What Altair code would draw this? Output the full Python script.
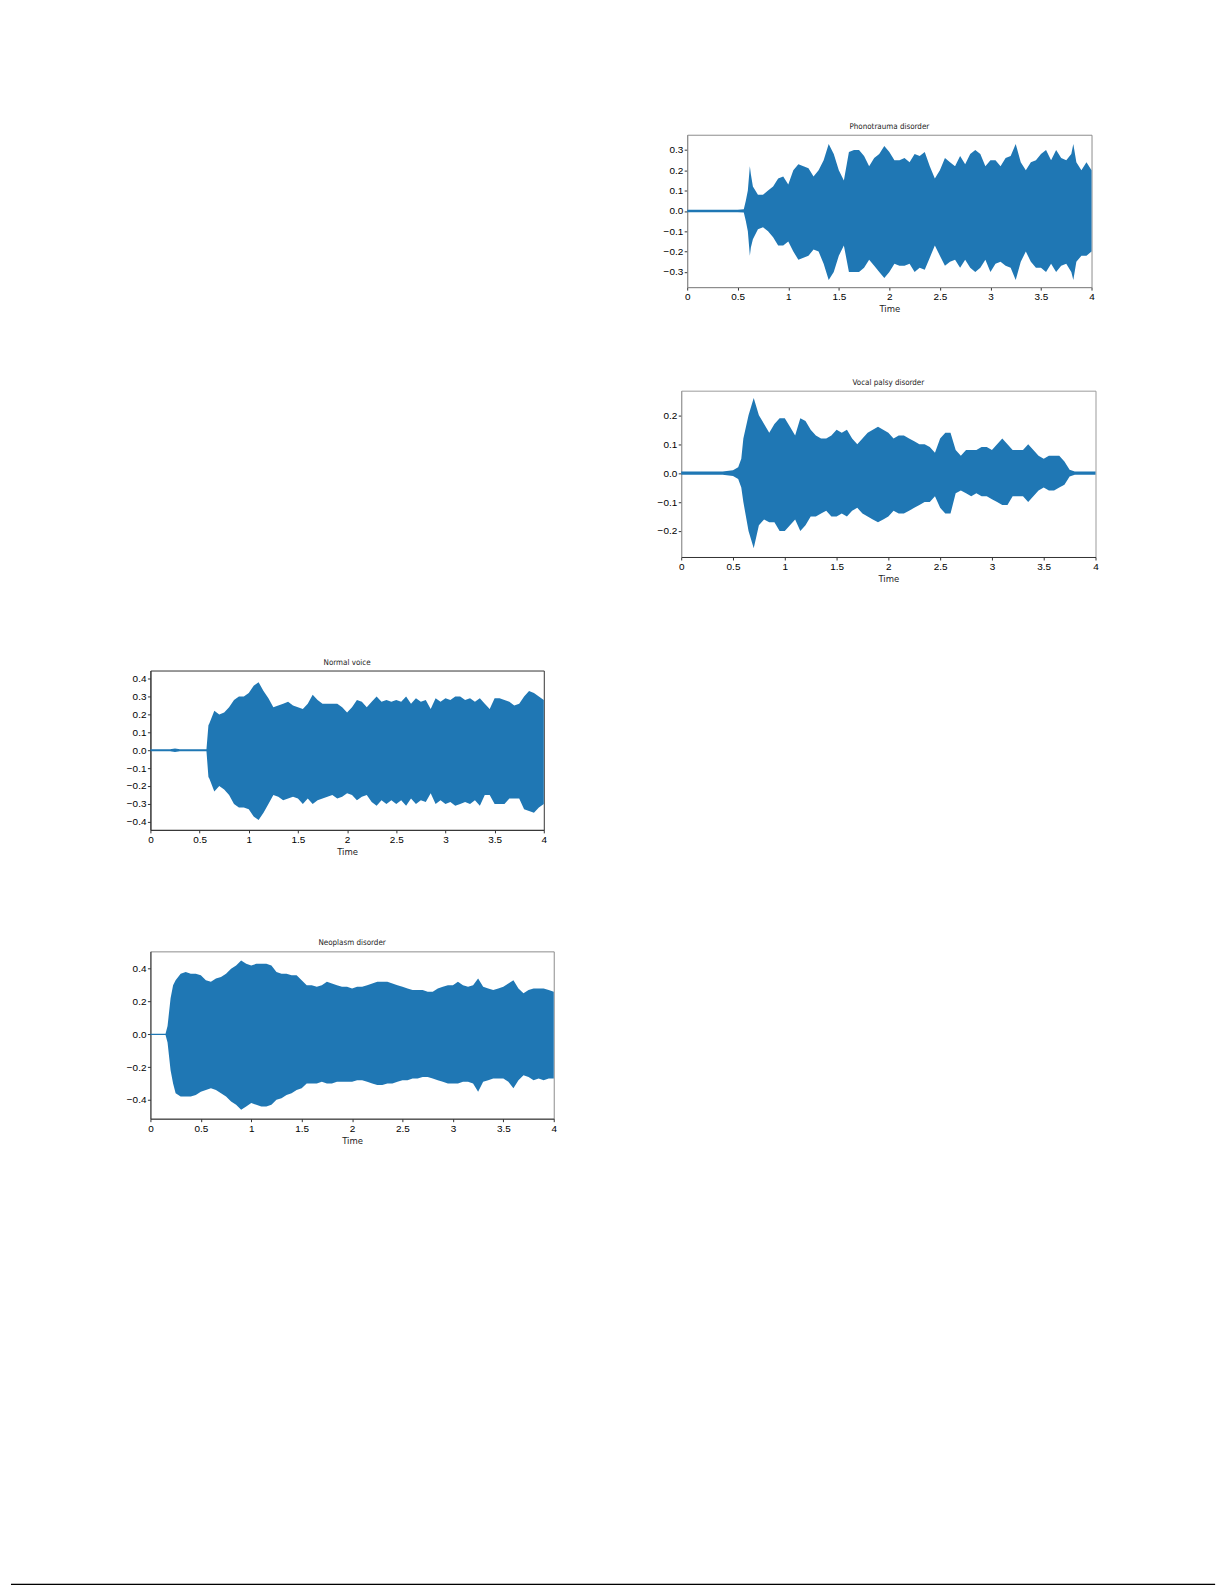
import altair as alt
import pandas as pd

# ---------------- data (envelopes) ----------------
PHONO_T = [0.0, 0.1, 0.2, 0.3, 0.4, 0.5, 0.56, 0.58, 0.6, 0.62, 0.63, 0.65,
           0.7, 0.75, 0.8, 0.85, 0.9, 0.95, 1.0, 1.05, 1.1, 1.15,
           1.2, 1.25, 1.3, 1.35, 1.4, 1.45, 1.5, 1.55, 1.6, 1.65,
           1.7, 1.75, 1.8, 1.85, 1.9, 1.95, 2.0, 2.05, 2.1, 2.15,
           2.2, 2.25, 2.3, 2.35, 2.4, 2.45, 2.5, 2.55, 2.6, 2.65,
           2.7, 2.75, 2.8, 2.85, 2.9, 2.95, 3.0, 3.05, 3.1, 3.15,
           3.2, 3.25, 3.3, 3.35, 3.4, 3.45, 3.5, 3.55, 3.6, 3.65,
           3.7, 3.75, 3.8, 3.82, 3.85, 3.9, 3.95, 4.0]
PHONO_UP = [0.006, 0.006, 0.006, 0.006, 0.006, 0.006, 0.008, 0.05, 0.1, 0.22, 0.18, 0.12,
            0.08, 0.08, 0.1, 0.12, 0.16, 0.17, 0.13, 0.2, 0.23, 0.22,
            0.21, 0.17, 0.2, 0.25, 0.33, 0.28, 0.2, 0.15, 0.29, 0.3,
            0.3, 0.27, 0.22, 0.26, 0.28, 0.32, 0.29, 0.25, 0.25, 0.26,
            0.24, 0.28, 0.27, 0.29, 0.22, 0.16, 0.2, 0.26, 0.24, 0.22,
            0.27, 0.23, 0.28, 0.3, 0.28, 0.22, 0.25, 0.25, 0.22, 0.26,
            0.27, 0.33, 0.24, 0.2, 0.24, 0.25, 0.28, 0.3, 0.25, 0.3,
            0.26, 0.25, 0.28, 0.33, 0.24, 0.2, 0.24, 0.2]
PHONO_LO = [-0.006, -0.006, -0.006, -0.006, -0.006, -0.006, -0.008, -0.05, -0.1, -0.22, -0.18, -0.14,
            -0.09, -0.08, -0.1, -0.13, -0.17, -0.17, -0.15, -0.2, -0.24, -0.23,
            -0.22, -0.19, -0.2, -0.26, -0.34, -0.3, -0.22, -0.17, -0.3, -0.3,
            -0.3, -0.28, -0.24, -0.27, -0.3, -0.33, -0.3, -0.26, -0.27, -0.27,
            -0.26, -0.3, -0.28, -0.29, -0.23, -0.17, -0.22, -0.27, -0.25, -0.24,
            -0.28, -0.24, -0.28, -0.3, -0.28, -0.24, -0.3, -0.26, -0.25, -0.27,
            -0.28, -0.34, -0.25, -0.2, -0.25, -0.28, -0.28, -0.3, -0.26, -0.3,
            -0.27, -0.26, -0.3, -0.34, -0.25, -0.22, -0.22, -0.2]

VOCAL_T = [0.0, 0.1, 0.2, 0.3, 0.4, 0.5, 0.55, 0.58, 0.6, 0.65,
           0.7, 0.75, 0.8, 0.85, 0.9, 0.95, 1.0, 1.05, 1.1, 1.15,
           1.2, 1.25, 1.3, 1.35, 1.4, 1.45, 1.5, 1.55, 1.6, 1.65,
           1.7, 1.75, 1.8, 1.85, 1.9, 1.95, 2.0, 2.05, 2.1, 2.15,
           2.2, 2.25, 2.3, 2.35, 2.4, 2.45, 2.5, 2.55, 2.6, 2.65,
           2.7, 2.75, 2.8, 2.85, 2.9, 2.95, 3.0, 3.05, 3.1, 3.15,
           3.2, 3.25, 3.3, 3.35, 3.4, 3.45, 3.5, 3.55, 3.6, 3.65,
           3.7, 3.75, 3.8, 3.9, 4.0]
VOCAL_UP = [0.006, 0.006, 0.006, 0.006, 0.006, 0.01, 0.02, 0.05, 0.12, 0.2,
            0.26, 0.2, 0.17, 0.14, 0.17, 0.19, 0.19, 0.16, 0.13, 0.19,
            0.18, 0.15, 0.13, 0.12, 0.12, 0.13, 0.15, 0.14, 0.15, 0.12,
            0.1, 0.12, 0.14, 0.15, 0.16, 0.15, 0.14, 0.12, 0.13, 0.13,
            0.12, 0.11, 0.1, 0.1, 0.09, 0.07, 0.12, 0.14, 0.14, 0.08,
            0.06, 0.08, 0.08, 0.08, 0.09, 0.09, 0.08, 0.1, 0.12, 0.1,
            0.08, 0.08, 0.08, 0.1, 0.08, 0.06, 0.05, 0.06, 0.06, 0.06,
            0.04, 0.012, 0.006, 0.006, 0.006]
VOCAL_LO = [-0.006, -0.006, -0.006, -0.006, -0.006, -0.01, -0.02, -0.05, -0.1, -0.2,
            -0.26, -0.18, -0.16, -0.17, -0.17, -0.2, -0.2, -0.18, -0.16, -0.2,
            -0.18, -0.15, -0.15, -0.14, -0.13, -0.15, -0.15, -0.14, -0.15, -0.13,
            -0.12, -0.14, -0.15, -0.16, -0.17, -0.16, -0.15, -0.13, -0.14, -0.14,
            -0.13, -0.12, -0.11, -0.1, -0.1, -0.08, -0.12, -0.14, -0.14, -0.07,
            -0.06, -0.07, -0.08, -0.07, -0.08, -0.08, -0.09, -0.1, -0.11, -0.11,
            -0.08, -0.08, -0.08, -0.1, -0.08, -0.06, -0.05, -0.06, -0.06, -0.05,
            -0.04, -0.012, -0.006, -0.006, -0.006]

NORMAL_T = [0.0, 0.1, 0.2, 0.25, 0.3, 0.4, 0.5, 0.57, 0.59, 0.6,
            0.65, 0.7, 0.75, 0.8, 0.85, 0.9, 0.95, 1.0, 1.05, 1.1,
            1.15, 1.2, 1.25, 1.3, 1.35, 1.4, 1.45, 1.5, 1.55, 1.6,
            1.65, 1.7, 1.75, 1.8, 1.85, 1.9, 1.95, 2.0, 2.05, 2.1,
            2.15, 2.2, 2.25, 2.3, 2.35, 2.4, 2.45, 2.5, 2.55, 2.6,
            2.65, 2.7, 2.75, 2.8, 2.85, 2.9, 2.95, 3.0, 3.05, 3.1,
            3.15, 3.2, 3.25, 3.3, 3.35, 3.4, 3.45, 3.5, 3.55, 3.6,
            3.65, 3.7, 3.75, 3.8, 3.85, 3.9, 3.95, 4.0]
NORMAL_UP = [0.006, 0.006, 0.006, 0.01, 0.006, 0.006, 0.006, 0.006, 0.14, 0.15,
             0.22, 0.2, 0.21, 0.24, 0.28, 0.3, 0.3, 0.32, 0.36, 0.38,
             0.33, 0.29, 0.24, 0.25, 0.26, 0.27, 0.25, 0.24, 0.23, 0.26,
             0.31, 0.28, 0.26, 0.26, 0.26, 0.26, 0.24, 0.21, 0.24, 0.28,
             0.27, 0.24, 0.27, 0.3, 0.27, 0.28, 0.27, 0.28, 0.27, 0.3,
             0.26, 0.29, 0.27, 0.28, 0.23, 0.29, 0.27, 0.29, 0.28, 0.3,
             0.3, 0.28, 0.29, 0.27, 0.29, 0.26, 0.23, 0.29, 0.29, 0.28,
             0.27, 0.25, 0.26, 0.3, 0.33, 0.32, 0.3, 0.28]
NORMAL_LO = [-0.006, -0.006, -0.006, -0.01, -0.006, -0.006, -0.006, -0.006, -0.15, -0.16,
             -0.23, -0.2, -0.22, -0.25, -0.3, -0.32, -0.32, -0.33, -0.37, -0.39,
             -0.35, -0.3, -0.25, -0.26, -0.28, -0.27, -0.26, -0.27, -0.3, -0.27,
             -0.3, -0.28, -0.27, -0.26, -0.25, -0.27, -0.26, -0.24, -0.25, -0.28,
             -0.26, -0.25, -0.29, -0.31, -0.28, -0.3, -0.28, -0.3, -0.28, -0.31,
             -0.27, -0.3, -0.28, -0.29, -0.24, -0.3, -0.28, -0.3, -0.29, -0.31,
             -0.3, -0.29, -0.3, -0.28, -0.31, -0.25, -0.25, -0.3, -0.3, -0.3,
             -0.27, -0.27, -0.27, -0.33, -0.34, -0.35, -0.32, -0.3]

NEO_T = [0.0, 0.05, 0.1, 0.15, 0.17, 0.2, 0.225, 0.25,
         0.3, 0.35, 0.4, 0.45, 0.5, 0.55, 0.6, 0.65, 0.7, 0.75,
         0.8, 0.85, 0.9, 0.95, 1.0, 1.05, 1.1, 1.15, 1.2, 1.25,
         1.3, 1.35, 1.4, 1.45, 1.5, 1.55, 1.6, 1.65, 1.7, 1.75,
         1.8, 1.85, 1.9, 1.95, 2.0, 2.05, 2.1, 2.15, 2.2, 2.25,
         2.3, 2.35, 2.4, 2.45, 2.5, 2.55, 2.6, 2.65, 2.7, 2.75,
         2.8, 2.85, 2.9, 2.95, 3.0, 3.05, 3.1, 3.15, 3.2, 3.25,
         3.3, 3.35, 3.4, 3.45, 3.5, 3.55, 3.6, 3.65, 3.7, 3.75,
         3.8, 3.85, 3.9, 3.95, 4.0]
NEO_UP = [0.004, 0.004, 0.004, 0.004, 0.05, 0.22, 0.3, 0.33,
          0.37, 0.38, 0.37, 0.37, 0.36, 0.33, 0.32, 0.34, 0.35, 0.37,
          0.4, 0.42, 0.45, 0.43, 0.42, 0.43, 0.43, 0.43, 0.42, 0.38,
          0.37, 0.37, 0.36, 0.36, 0.33, 0.3, 0.3, 0.29, 0.3, 0.32,
          0.31, 0.3, 0.29, 0.29, 0.28, 0.29, 0.29, 0.3, 0.31, 0.32,
          0.32, 0.32, 0.31, 0.3, 0.29, 0.28, 0.27, 0.27, 0.27, 0.26,
          0.26, 0.28, 0.29, 0.3, 0.3, 0.32, 0.3, 0.29, 0.3, 0.34,
          0.29, 0.28, 0.27, 0.28, 0.29, 0.31, 0.33, 0.28, 0.25, 0.27,
          0.28, 0.28, 0.28, 0.27, 0.26]
NEO_LO = [-0.004, -0.004, -0.004, -0.004, -0.05, -0.22, -0.3, -0.36,
          -0.38, -0.38, -0.38, -0.37, -0.35, -0.34, -0.33, -0.34, -0.36, -0.38,
          -0.41, -0.43, -0.46, -0.44, -0.42, -0.43, -0.44, -0.44, -0.43, -0.4,
          -0.39, -0.37, -0.36, -0.34, -0.33, -0.3, -0.3, -0.3, -0.29, -0.3,
          -0.3, -0.29, -0.29, -0.29, -0.29, -0.28, -0.28, -0.29, -0.3, -0.31,
          -0.31, -0.3, -0.3, -0.29, -0.28, -0.28, -0.27, -0.27, -0.26, -0.26,
          -0.27, -0.28, -0.29, -0.3, -0.3, -0.3, -0.29, -0.29, -0.3, -0.35,
          -0.29, -0.28, -0.27, -0.27, -0.27, -0.29, -0.33, -0.28, -0.25, -0.26,
          -0.28, -0.27, -0.28, -0.27, -0.27]

X_TICKS = [0, 0.5, 1, 1.5, 2, 2.5, 3, 3.5, 4]
PHONO_YTICKS = [-0.3, -0.2, -0.1, 0.0, 0.1, 0.2, 0.3]
VOCAL_YTICKS = [-0.2, -0.1, 0.0, 0.1, 0.2]
NORMAL_YTICKS = [-0.4, -0.3, -0.2, -0.1, 0.0, 0.1, 0.2, 0.3, 0.4]
NEO_YTICKS = [-0.4, -0.2, 0.0, 0.2, 0.4]

BLUE = "#1f77b4"
FONT = "DejaVu Sans Condensed, DejaVu Sans"
T_EXT = 12  # estimated height of a panel title above its plot area


def panel(title, t, up, lo, ydom, yticks, w, h, frame, left_col, bottom_col):
    df = pd.DataFrame({"t": t, "up": up, "lo": lo})
    return alt.Chart(df).mark_area(color=BLUE, interpolate="linear").encode(
        x=alt.X("t:Q",
                scale=alt.Scale(domain=[0, 4], nice=False, zero=False),
                axis=alt.Axis(values=X_TICKS, format=".1~f", title="Time", grid=False,
                              domainColor=bottom_col, tickColor="#333", tickSize=3,
                              labelPadding=1.5, titlePadding=2, labelFlush=False,
                              titleFont=FONT, titleFontSize=9.5, titleFontWeight="normal",
                              titleColor="#222")),
        y=alt.Y("up:Q",
                scale=alt.Scale(domain=ydom, nice=False, zero=False),
                axis=alt.Axis(values=yticks, format=".1f", title=None, grid=False,
                              domainColor=left_col, tickColor="#333", tickSize=3,
                              labelPadding=1.5)),
        y2="lo:Q",
    ).properties(
        width=w, height=h,
        title=alt.TitleParams(title, fontSize=8, font=FONT, fontWeight="normal",
                              color="#222", offset=4),
        view=alt.ViewBackground(stroke=frame, strokeWidth=1),
    )


def spacer(w, h):
    return alt.Chart(pd.DataFrame({"a": [0]})).mark_point(opacity=0).properties(width=w, height=h)


def row(offset_x, row_h, chart):
    return alt.hconcat(spacer(offset_x, row_h), chart, spacing=0, bounds="flush")


phono = panel("Phonotrauma disorder", PHONO_T, PHONO_UP, PHONO_LO, [-0.375, 0.375],
              PHONO_YTICKS, 406, 153, "#8c8c8c", "#8c8c8c", "#8c8c8c")
vocal = panel("Vocal palsy disorder", VOCAL_T, VOCAL_UP, VOCAL_LO, [-0.29, 0.285],
              VOCAL_YTICKS, 416, 167, "#9a9a9a", "#9a9a9a", "#333333")
normal = panel("Normal voice", NORMAL_T, NORMAL_UP, NORMAL_LO, [-0.445, 0.445],
               NORMAL_YTICKS, 395, 160, "#333333", "#333333", "#333333")
neo = panel("Neoplasm disorder", NEO_T, NEO_UP, NEO_LO, [-0.515, 0.506],
            NEO_YTICKS, 405, 168, "#8c8c8c", "#333333", "#333333")

bottom_line = alt.Chart(pd.DataFrame({"a": [0]})).mark_rule(color="black", strokeWidth=2).encode(
    x=alt.value(0), x2=alt.value(1209), y=alt.value(1)
).properties(width=1209, height=2)

chart = alt.vconcat(
    spacer(1, 123 - T_EXT),
    row(679, 256 - T_EXT, phono),
    row(673, 280 - T_EXT, vocal),
    row(140, 281 - T_EXT, normal),
    row(140, 634, neo),
    bottom_line,
    spacing=0,
).properties(padding=0).configure_view(
    stroke="transparent"
).configure_axis(
    labelFont=FONT, labelFontSize=6.5, labelColor="#333",
    titleFont=FONT, titleFontSize=9.5, titleFontWeight="normal", titleColor="#222",
).configure(background="white")

chart.save("out.html", embed_options={"renderer": "svg", "actions": False})
